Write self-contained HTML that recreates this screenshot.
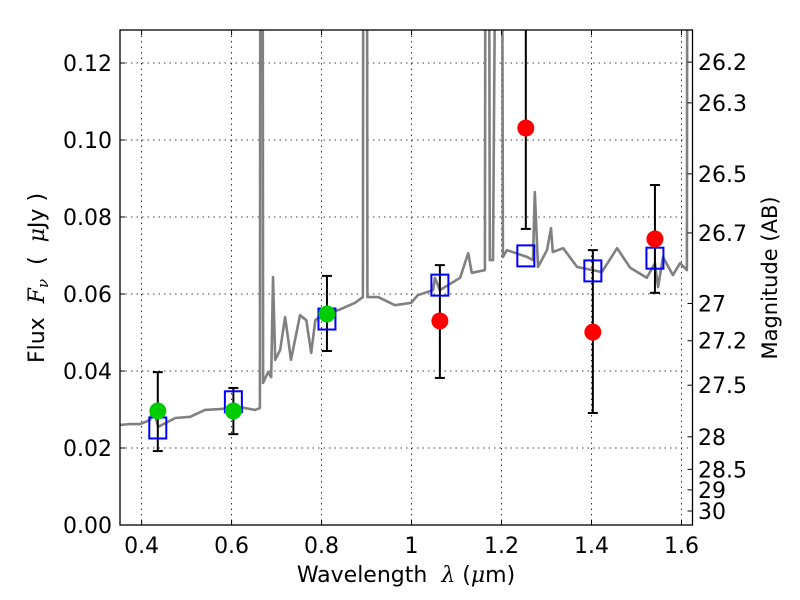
<!DOCTYPE html>
<html><head><meta charset="utf-8"><style>
body{margin:0;background:#fff;}
svg{display:block;font-family:"DejaVu Sans","Liberation Sans",sans-serif;}
</style></head><body>
<svg id="chart" width="800" height="600" viewBox="0 0 800 600" xmlns="http://www.w3.org/2000/svg">
<defs><clipPath id="pc"><rect x="120" y="30" width="572.5" height="495"/></clipPath></defs>
<g id="grid"></g>
<g id="spec" clip-path="url(#pc)"></g>
<g id="marks" clip-path="url(#pc)"></g>
<rect x="120" y="30" width="572.5" height="495" fill="none" stroke="#000" stroke-width="1.3"/>
<g id="axes"></g>
<text x="406" y="582" font-size="22" text-anchor="middle" xml:space="preserve">Wavelength  <tspan font-family="DejaVu Serif" font-style="italic">λ</tspan> (<tspan font-family="DejaVu Serif" font-style="italic">μ</tspan>m)</text>
<text transform="translate(44,278) rotate(-90)" font-size="22" text-anchor="middle" xml:space="preserve">Flux  <tspan font-family="DejaVu Serif" font-style="italic">F<tspan font-size="15" dy="4">ν</tspan></tspan><tspan dy="-4">  (  </tspan><tspan font-family="DejaVu Serif" font-style="italic">μ</tspan>Jy )</text>
<text transform="translate(777,278) rotate(-90)" font-size="21" text-anchor="middle">Magnitude (AB)</text>
</svg>
<script>
const xTicks=[0.4,0.6,0.8,1.0,1.2,1.4,1.6];
const xTickLabels=["0.4","0.6","0.8","1","1.2","1.4","1.6"];
const yTicks=[0,0.02,0.04,0.06,0.08,0.10,0.12];
const yTickLabels=["0.00","0.02","0.04","0.06","0.08","0.10","0.12"];
const magTicks=[26.2,26.3,26.5,26.7,27,27.2,27.5,28,28.5,29,30];
const magTickLabels=["26.2","26.3","26.5","26.7","27","27.2","27.5","28","28.5","29","30"];
const specWave=[0.352,0.374,0.397,0.419,0.425,0.437,0.475,0.508,0.541,0.574,0.619,0.652,0.663,0.665,0.668,0.670,0.681,0.688,0.692,0.697,0.708,0.719,0.732,0.752,0.766,0.777,0.786,0.808,0.837,0.874,0.892,0.894,0.900,0.902,0.926,0.963,0.999,1.014,1.048,1.052,1.063,1.108,1.126,1.134,1.163,1.166,1.170,1.174,1.181,1.195,1.199,1.203,1.212,1.257,1.270,1.274,1.281,1.301,1.310,1.314,1.337,1.368,1.403,1.423,1.457,1.486,1.523,1.541,1.548,1.559,1.581,1.597,1.612,1.614,1.7];
const specFlux=[0.026,0.0262,0.0262,0.0273,0.0306,0.0255,0.0278,0.0281,0.0299,0.0301,0.0306,0.0299,0.0304,0.3,0.3,0.0369,0.0397,0.0384,0.0644,0.0429,0.0455,0.054,0.0429,0.0545,0.0532,0.0447,0.0532,0.0551,0.0558,0.0577,0.0592,0.3,0.3,0.0592,0.0592,0.0571,0.0577,0.0597,0.061,0.0642,0.061,0.0642,0.0706,0.0655,0.0662,0.3,0.3,0.0688,0.0688,0.3,0.3,0.0696,0.0714,0.0696,0.0688,0.0865,0.067,0.0714,0.0771,0.0709,0.0719,0.067,0.0662,0.0657,0.0719,0.0668,0.0642,0.068,0.0618,0.0696,0.0649,0.068,0.0662,0.3,0.3];
const obsWave=[0.436,0.604,0.812,1.063,1.254,1.403,1.541];
const obsFlux=[0.0296,0.0296,0.0548,0.053,0.1031,0.0501,0.0743];
const obsErrHi=[0.0397,0.0356,0.0647,0.0675,0.2,0.0714,0.0883];
const obsErrLo=[0.0192,0.0236,0.0452,0.0382,0.0769,0.0291,0.0603];
const obsColor=["#00cc00","#00cc00","#00cc00","#ff0000","#ff0000","#ff0000","#ff0000"];
const modelFlux=[0.0252,0.032,0.0535,0.0623,0.0699,0.066,0.0693];

const NS="http://www.w3.org/2000/svg";
const X0=120,X1=692.5,Y0=525,Y1=30,xmin=0.352,xmax=1.6245,ymin=0,ymax=0.12857;
function sx(v){return X0+(v-xmin)/(xmax-xmin)*(X1-X0);}
function sy(v){return Y0-(v-ymin)/(ymax-ymin)*(Y0-Y1);}
function magToFlux(m){return Math.pow(10,(23.9-m)/2.5);}
function mk(tag,at,parent){const e=document.createElementNS(NS,tag);for(const k in at)e.setAttribute(k,at[k]);parent.appendChild(e);return e;}
const grid=document.getElementById('grid'),axes=document.getElementById('axes'),spec=document.getElementById('spec'),marks=document.getElementById('marks');

xTicks.forEach((t,i)=>{const x=sx(t);
 let g=mk('line',{x1:x,x2:x,y1:Y1,y2:Y0,stroke:'#000','stroke-width':0.8,'stroke-dasharray':'1.5,4'},grid);
 
 let a=mk('line',{x1:x,x2:x,y1:Y0,y2:Y0-5,stroke:'#000','stroke-width':1},axes);
 
 mk('line',{x1:x,x2:x,y1:Y1,y2:Y1+5,stroke:'#000','stroke-width':1},axes);
 let tx=mk('text',{x:x,y:553,'font-size':22,'text-anchor':'middle'},axes);tx.textContent=xTickLabels[i];
 
});
yTicks.forEach((t,i)=>{const y=sy(t);
 let g=mk('line',{x1:X0,x2:X1,y1:y,y2:y,stroke:'#000','stroke-width':0.8,'stroke-dasharray':'1.5,4'},grid);
 
 let a=mk('line',{x1:X0,x2:X0+5,y1:y,y2:y,stroke:'#000','stroke-width':1},axes);
 
 let tx=mk('text',{x:112,y:y+8,'font-size':22,'text-anchor':'end'},axes);tx.textContent=yTickLabels[i];
 
});
magTicks.forEach((m,i)=>{const y=sy(magToFlux(m));
 let a=mk('line',{x1:X1,x2:X1-5,y1:y,y2:y,stroke:'#000','stroke-width':1},axes);
 
 let tx=mk('text',{x:698,y:y+8,'font-size':22},axes);tx.textContent=magTickLabels[i];
 
});
let d=specWave.map((w,i)=>(i?'L':'M')+sx(w).toFixed(1)+','+sy(specFlux[i]).toFixed(1)).join('');
let sp=mk('path',{d:d,fill:'none',stroke:'#808080','stroke-width':2.6,'stroke-linejoin':'round'},spec);


obsWave.forEach((w,i)=>{const x=sx(w);
 let e=mk('line',{x1:x,x2:x,y1:sy(obsErrLo[i]),y2:sy(obsErrHi[i]),stroke:'#000','stroke-width':2},marks);
 
 [obsErrLo[i],obsErrHi[i]].forEach(v=>{let c=mk('line',{x1:x-5,x2:x+5,y1:sy(v),y2:sy(v),stroke:'#000','stroke-width':2},marks);
  });
 let r=mk('rect',{x:x-8.5,y:sy(modelFlux[i])-10.5,width:17,height:21,fill:'none',stroke:'#0000ff','stroke-width':2},marks);
 
 let p=mk('circle',{cx:x,cy:sy(obsFlux[i]),r:8.5,fill:obsColor[i]},marks);
 
});
</script>
</body></html>
